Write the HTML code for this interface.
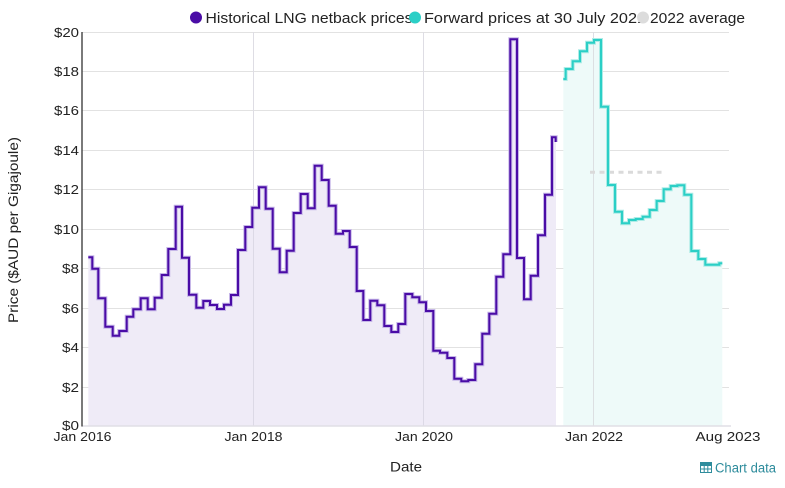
<!DOCTYPE html>
<html><head><meta charset="utf-8"><style>
html,body{margin:0;padding:0;background:#fff;}
svg{display:block;font-family:"Liberation Sans",sans-serif;}
</style></head><body>
<svg width="785" height="488" viewBox="0 0 785 488" xmlns="http://www.w3.org/2000/svg">
<!-- horizontal gridlines -->
<g stroke="#e2e2e2" stroke-width="1">
<line x1="82" y1="32.5" x2="729" y2="32.5"/>
<line x1="82" y1="71.5" x2="729" y2="71.5"/>
<line x1="82" y1="110.5" x2="729" y2="110.5"/>
<line x1="82" y1="150.5" x2="729" y2="150.5"/>
<line x1="82" y1="189.5" x2="729" y2="189.5"/>
<line x1="82" y1="229.5" x2="729" y2="229.5"/>
<line x1="82" y1="268.5" x2="729" y2="268.5"/>
<line x1="82" y1="308.5" x2="729" y2="308.5"/>
<line x1="82" y1="347.5" x2="729" y2="347.5"/>
<line x1="82" y1="387.5" x2="729" y2="387.5"/>
</g>
<!-- vertical gridlines -->
<g stroke="#dedde4" stroke-width="1">
<line x1="253.5" y1="32" x2="253.5" y2="426"/>
<line x1="423.5" y1="32" x2="423.5" y2="426"/>
<line x1="593.5" y1="32" x2="593.5" y2="426"/>
</g>
<!-- historical fill -->
<path fill="#efebf7" d="M88.3,426 V257.3 H92.3 V268.7 H98.3 V298.3 H105.3 V326.7 H112.7 V335.7 H119.3 V331 H126.7 V316.7 H133.3 V309.3 H140.7 V298.3 H147.7 V309.3 H154.7 V297.7 H161.7 V275 H168.3 V249 H175.7 V206.7 H182 V257.7 H189 V294.7 H196.3 V307.7 H203.3 V301 H210 V305 H217 V309 H224 V304.7 H231 V295 H238 V250 H245.3 V227 H252.3 V207.7 H259 V187.3 H265.7 V208.7 H272.7 V248.7 H279.7 V272.3 H286.7 V250.7 H293.7 V213 H300.7 V194 H307.7 V208.3 H314.7 V165.7 H321.7 V180 H328.7 V205.7 H335.7 V233.7 H343 V231 H349.7 V247 H356.7 V291 H363.3 V320 H370.3 V300.7 H377.3 V305.3 H384.3 V326 H391.3 V332 H398.3 V324 H405.3 V294 H412.3 V297.3 H419.3 V302.3 H426 V311 H433.3 V350.7 H440 V352.7 H447.3 V358 H454.3 V378.7 H461.3 V381.3 H468.3 V380 H475.3 V364.3 H482.3 V333.7 H489.3 V313.7 H496.3 V276.7 H503.3 V254.3 H510.3 V39.3 H517 V258 H524 V299.3 H530.7 V275.7 H538 V235.3 H545 V194.7 H552 V137.3 H556 V426 Z"/>
<!-- forward fill -->
<path fill="#eefaf9" d="M563.3,426 V79 H565.7 V69 H572.7 V61.3 H580 V51.3 H587 V42.7 H594 V40 H601 V106.7 H608 V185 H615 V211.7 H622 V223.3 H629 V220 H635.7 V219 H642.7 V216.7 H649.7 V210 H656.7 V201 H663.7 V189.3 H670.7 V186 H677.3 V185.3 H684.3 V194.7 H691.3 V251 H698.3 V259 H705.3 V264.7 H719.3 V263.3 H722.3 V426 Z"/>
<!-- re-draw vertical gridline over fill -->
<line x1="593.5" y1="40" x2="593.5" y2="426" stroke="#dcdfe2" stroke-width="1"/>
<line x1="253.5" y1="188" x2="253.5" y2="426" stroke="#dcd9e6" stroke-width="1"/>
<line x1="423.5" y1="312" x2="423.5" y2="426" stroke="#dcd9e6" stroke-width="1"/>
<!-- bottom axis line -->
<line x1="82" y1="426" x2="731" y2="426" stroke="#e0dfe6" stroke-width="1.5"/>
<!-- y axis -->
<line x1="82" y1="32" x2="82" y2="426.5" stroke="#333" stroke-width="1.3"/>
<!-- 2022 average dashed -->
<line x1="590" y1="172.3" x2="666" y2="172.3" stroke="#dadada" stroke-width="3" stroke-dasharray="5,4.5"/>
<!-- historical line -->
<path id="hist" fill="none" stroke="#c6b6e8" stroke-width="4" stroke-linejoin="miter" d="M88.3,257.3 H92.3 V268.7 H98.3 V298.3 H105.3 V326.7 H112.7 V335.7 H119.3 V331 H126.7 V316.7 H133.3 V309.3 H140.7 V298.3 H147.7 V309.3 H154.7 V297.7 H161.7 V275 H168.3 V249 H175.7 V206.7 H182 V257.7 H189 V294.7 H196.3 V307.7 H203.3 V301 H210 V305 H217 V309 H224 V304.7 H231 V295 H238 V250 H245.3 V227 H252.3 V207.7 H259 V187.3 H265.7 V208.7 H272.7 V248.7 H279.7 V272.3 H286.7 V250.7 H293.7 V213 H300.7 V194 H307.7 V208.3 H314.7 V165.7 H321.7 V180 H328.7 V205.7 H335.7 V233.7 H343 V231 H349.7 V247 H356.7 V291 H363.3 V320 H370.3 V300.7 H377.3 V305.3 H384.3 V326 H391.3 V332 H398.3 V324 H405.3 V294 H412.3 V297.3 H419.3 V302.3 H426 V311 H433.3 V350.7 H440 V352.7 H447.3 V358 H454.3 V378.7 H461.3 V381.3 H468.3 V380 H475.3 V364.3 H482.3 V333.7 H489.3 V313.7 H496.3 V276.7 H503.3 V254.3 H510.3 V39.3 H517 V258 H524 V299.3 H530.7 V275.7 H538 V235.3 H545 V194.7 H552 V137.3 H555.7 V142"/>
<path fill="none" stroke="#4a0ca6" stroke-width="2" d="M88.3,257.3 H92.3 V268.7 H98.3 V298.3 H105.3 V326.7 H112.7 V335.7 H119.3 V331 H126.7 V316.7 H133.3 V309.3 H140.7 V298.3 H147.7 V309.3 H154.7 V297.7 H161.7 V275 H168.3 V249 H175.7 V206.7 H182 V257.7 H189 V294.7 H196.3 V307.7 H203.3 V301 H210 V305 H217 V309 H224 V304.7 H231 V295 H238 V250 H245.3 V227 H252.3 V207.7 H259 V187.3 H265.7 V208.7 H272.7 V248.7 H279.7 V272.3 H286.7 V250.7 H293.7 V213 H300.7 V194 H307.7 V208.3 H314.7 V165.7 H321.7 V180 H328.7 V205.7 H335.7 V233.7 H343 V231 H349.7 V247 H356.7 V291 H363.3 V320 H370.3 V300.7 H377.3 V305.3 H384.3 V326 H391.3 V332 H398.3 V324 H405.3 V294 H412.3 V297.3 H419.3 V302.3 H426 V311 H433.3 V350.7 H440 V352.7 H447.3 V358 H454.3 V378.7 H461.3 V381.3 H468.3 V380 H475.3 V364.3 H482.3 V333.7 H489.3 V313.7 H496.3 V276.7 H503.3 V254.3 H510.3 V39.3 H517 V258 H524 V299.3 H530.7 V275.7 H538 V235.3 H545 V194.7 H552 V137.3 H555.7 V142"/>
<!-- forward line -->
<path fill="none" stroke="#aeece7" stroke-width="4" d="M563.3,79 H565.7 V69 H572.7 V61.3 H580 V51.3 H587 V42.7 H594 V40 H601 V106.7 H608 V185 H615 V211.7 H622 V223.3 H629 V220 H635.7 V219 H642.7 V216.7 H649.7 V210 H656.7 V201 H663.7 V189.3 H670.7 V186 H677.3 V185.3 H684.3 V194.7 H691.3 V251 H698.3 V259 H705.3 V264.7 H719.3 V263.3 H722.3"/>
<path fill="none" stroke="#2bcfc6" stroke-width="2" d="M563.3,79 H565.7 V69 H572.7 V61.3 H580 V51.3 H587 V42.7 H594 V40 H601 V106.7 H608 V185 H615 V211.7 H622 V223.3 H629 V220 H635.7 V219 H642.7 V216.7 H649.7 V210 H656.7 V201 H663.7 V189.3 H670.7 V186 H677.3 V185.3 H684.3 V194.7 H691.3 V251 H698.3 V259 H705.3 V264.7 H719.3 V263.3 H722.3"/>
<!-- y tick labels -->
<g font-size="13" fill="#222" text-anchor="end">
<text x="79" y="37" textLength="25" lengthAdjust="spacingAndGlyphs">$20</text>
<text x="79" y="76" textLength="25" lengthAdjust="spacingAndGlyphs">$18</text>
<text x="79" y="115" textLength="25" lengthAdjust="spacingAndGlyphs">$16</text>
<text x="79" y="155" textLength="25" lengthAdjust="spacingAndGlyphs">$14</text>
<text x="79" y="194" textLength="25" lengthAdjust="spacingAndGlyphs">$12</text>
<text x="79" y="234" textLength="25" lengthAdjust="spacingAndGlyphs">$10</text>
<text x="79" y="273" textLength="17" lengthAdjust="spacingAndGlyphs">$8</text>
<text x="79" y="313" textLength="17" lengthAdjust="spacingAndGlyphs">$6</text>
<text x="79" y="352" textLength="17" lengthAdjust="spacingAndGlyphs">$4</text>
<text x="79" y="392" textLength="17" lengthAdjust="spacingAndGlyphs">$2</text>
<text x="79" y="430" textLength="17" lengthAdjust="spacingAndGlyphs">$0</text>
</g>
<!-- x tick labels -->
<g font-size="13" fill="#222" text-anchor="middle">
<text x="82.5" y="441" textLength="58" lengthAdjust="spacingAndGlyphs">Jan 2016</text>
<text x="253.5" y="441" textLength="58" lengthAdjust="spacingAndGlyphs">Jan 2018</text>
<text x="424" y="441" textLength="58" lengthAdjust="spacingAndGlyphs">Jan 2020</text>
<text x="594" y="441" textLength="58" lengthAdjust="spacingAndGlyphs">Jan 2022</text>
<text x="728" y="441" textLength="65" lengthAdjust="spacingAndGlyphs">Aug 2023</text>
</g>
<!-- axis titles -->
<text x="406" y="471.5" font-size="14" fill="#222" text-anchor="middle" textLength="32" lengthAdjust="spacingAndGlyphs">Date</text>
<text transform="translate(18,230) rotate(-90)" font-size="14" fill="#222" text-anchor="middle" textLength="186" lengthAdjust="spacingAndGlyphs">Price ($AUD per Gigajoule)</text>
<!-- legend -->
<circle cx="196" cy="17.5" r="6" fill="#4a0ca6"/>
<text x="205.5" y="23" font-size="14.5" fill="#222" textLength="207" lengthAdjust="spacingAndGlyphs">Historical LNG netback prices</text>
<circle cx="415" cy="17.5" r="6" fill="#2bcfc6"/>
<text x="424" y="23" font-size="14.5" fill="#222" textLength="222" lengthAdjust="spacingAndGlyphs">Forward prices at 30 July 2021</text>
<circle cx="643" cy="17.5" r="6" fill="#dcdcdc"/>
<text x="650" y="23" font-size="14.5" fill="#222" textLength="95" lengthAdjust="spacingAndGlyphs">2022 average</text>
<!-- chart data link -->
<g fill="none" stroke="#2e8c9c" stroke-width="1">
<rect x="700.5" y="462.5" width="11" height="10"/>
<line x1="700.5" y1="465.5" x2="711.5" y2="465.5"/>
<line x1="700.5" y1="469" x2="711.5" y2="469"/>
<line x1="704.2" y1="462.5" x2="704.2" y2="472.5"/>
<line x1="707.8" y1="462.5" x2="707.8" y2="472.5"/>
</g>
<rect x="700.5" y="462.5" width="11" height="3" fill="#2e8c9c"/>
<text x="715" y="472.5" font-size="13.5" fill="#2e8c9c" textLength="61" lengthAdjust="spacingAndGlyphs">Chart data</text>
</svg>
</body></html>
